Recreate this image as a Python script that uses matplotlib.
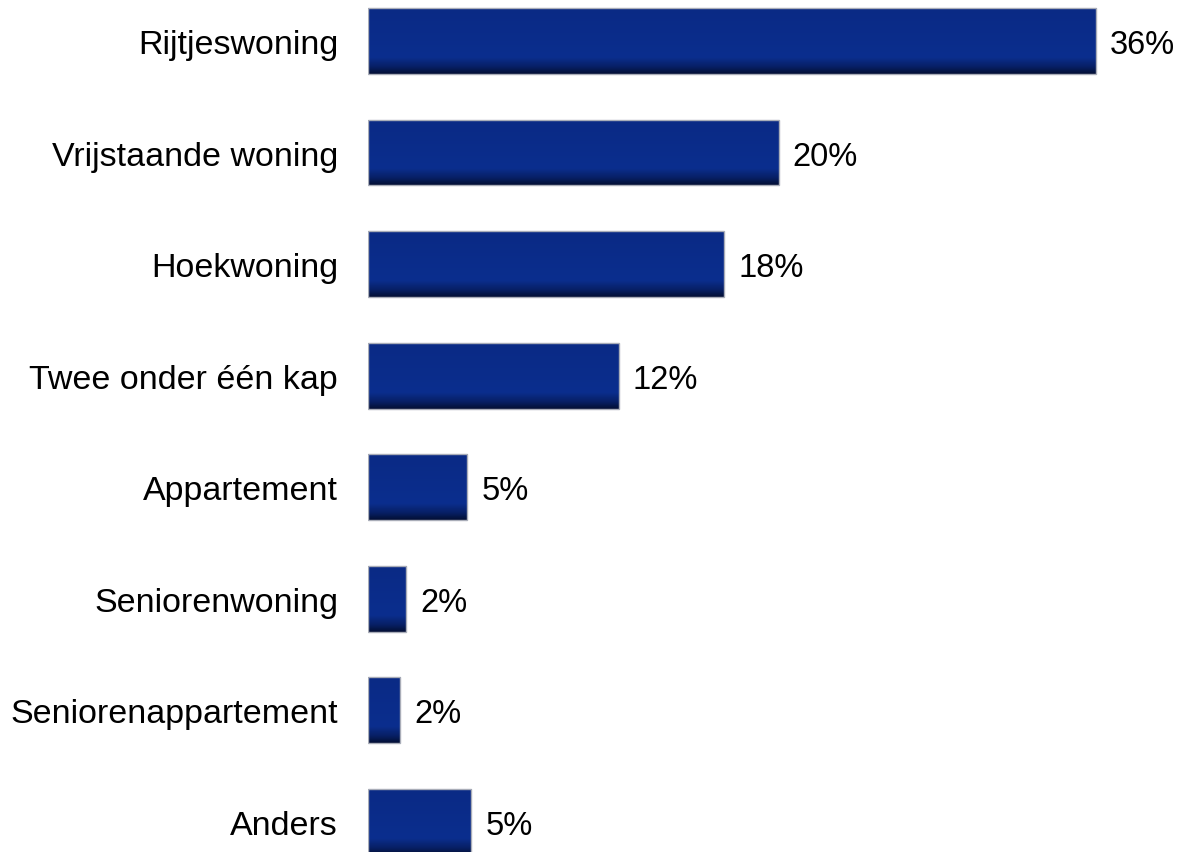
import numpy as np
import matplotlib.pyplot as plt
from matplotlib.colors import LinearSegmentedColormap

categories = ['Rijtjeswoning', 'Vrijstaande woning', 'Hoekwoning', 'Twee onder één kap',
              'Appartement', 'Seniorenwoning', 'Seniorenappartement', 'Anders']
values = [36.0, 20.3, 17.6, 12.4, 4.9, 1.9, 1.6, 5.1]
labels = ['36%', '20%', '18%', '12%', '5%', '2%', '2%', '5%']

plt.rcParams['font.family'] = ['Liberation Sans', 'DejaVu Sans']

fig = plt.figure(figsize=(11.79, 8.53), dpi=100)
ax = fig.add_axes([368 / 1179, 0, 809 / 1179, 1])

pos = list(range(len(categories)))
bars = ax.barh(pos, values, height=0.59, color='#0b2d8a', edgecolor='#a9adb8', linewidth=1)

# darker shading towards the bottom of each bar
shade = LinearSegmentedColormap.from_list('shade', [(0, '#0a2a85'), (0.75, '#0b2e8e'), (0.9, '#071f63'), (1, '#030f35')])
grad = np.linspace(0, 1, 100).reshape(-1, 1)
for b in bars:
    x0, y0, w, h = b.get_x(), b.get_y(), b.get_width(), b.get_height()
    # y axis is inverted, so y0 is the visual top
    im = ax.imshow(grad, cmap=shade, aspect='auto', extent=(x0, x0 + w, y0 + h, y0),
                   origin='upper', zorder=2)
    im.set_clip_path(b)
    b.set_zorder(3)
    b.set_facecolor('none')

for b, lab in zip(bars, labels):
    ax.text(b.get_width() + 0.7, b.get_y() + b.get_height() / 2, lab,
            va='center_baseline', ha='left', fontsize=23.5)

ax.set_xlim(0, 40)
ax.set_ylim(7.27, -0.376)
ax.set_yticks(pos)
ax.set_yticklabels(categories, fontsize=24.5)
ax.tick_params(axis='y', length=0, pad=21.5)
ax.set_xticks([])
for s in ax.spines.values():
    s.set_visible(False)

plt.savefig('out.png')
